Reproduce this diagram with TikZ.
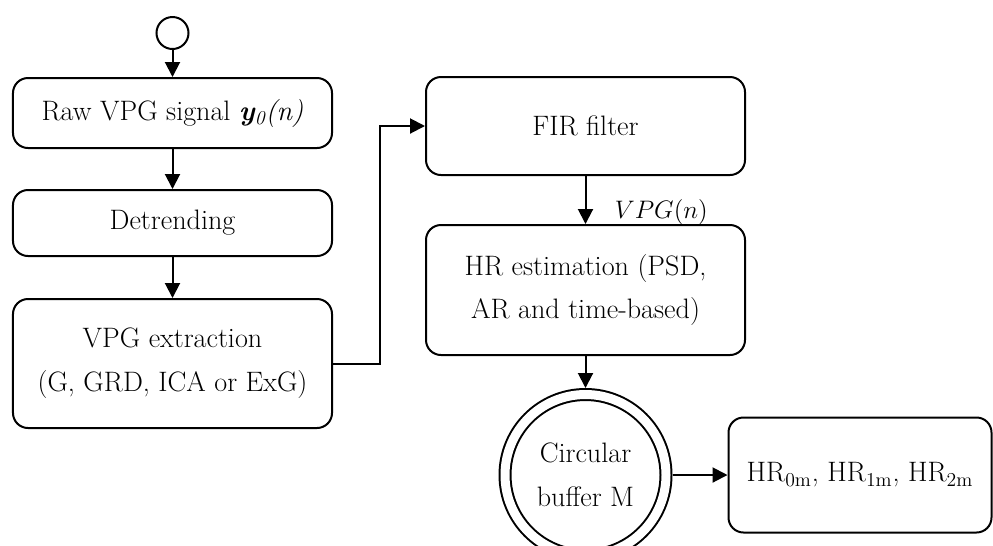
\documentclass[tikz,border=0pt]{standalone}
\usepackage{tikz}
\usetikzlibrary{automata, positioning, arrows.meta}
\tikzset{->, >={Triangle[length=0.3cm, width=0.3cm]}, node distance = 0.8cm,
    txt/.style = {font=\fontsize{16}{25}\selectfont, align=center},
    box/.style = {draw, txt, rounded corners=0.3cm, minimum width=6.38cm}}

\begin{document}
\begin{tikzpicture}[line width=0.04cm]
    \useasboundingbox (0,0) rectangle (19.86,-10.9);
    \node[state, minimum size=0.64cm, inner sep=0pt] (0) at (3.45,-0.66) {};
    \node[box, minimum height=1.4cm, below=0.54cm of 0] (1) {Raw VPG signal \textit{\textbf{y}\textsubscript{0}(n)}};
    \node[box, minimum height=1.32cm, below=of 1] (2) {Detrending};
    \node[box, minimum height=2.58cm, below=0.82cm of 2] (3) {VPG extraction\\(G, GRD, ICA or ExG)};
    \node[box, minimum height=1.96cm] (4) at (11.71,-2.52) {FIR filter};
    \node[box, minimum height=2.6cm, below=0.96cm of 4] (5) {HR estimation (PSD,\\AR and time-based)};
    \node[state, accepting, txt, minimum size=3.22cm, inner sep=0pt,
          double distance=0.18cm, outer sep=0.13cm, below=0.64cm of 5] (6) {Circular\\buffer M};
    \node[box, minimum width=5.26cm, minimum height=2.3cm, right=1.1cm of 6] (7)
        {HR\textsubscript{0m}, HR\textsubscript{1m}, HR\textsubscript{2m}};
    \draw (0) edge (1)
          (1) edge (2)
          (2) edge (3)
          (4) edge node[font=\fontsize{14}{16}\selectfont, near end, right=0.45cm] {$VPG(n)$} (5)
          (5) edge (6)
          (6) edge (7);
    \draw (3.east) -- ++(0.94,0) |- (4.west);
\end{tikzpicture}
\end{document}
